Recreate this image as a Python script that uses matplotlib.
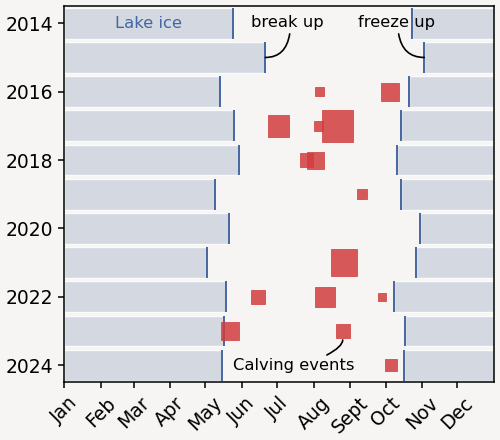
import matplotlib.pyplot as plt
import numpy as np

# lake ice: break-up / freeze-up day of year per season
years = [2014, 2015, 2016, 2017, 2018, 2019, 2020, 2021, 2022, 2023, 2024]
break_up = [143.5, 171, 132, 144.6, 148.3, 128.3, 140.4, 121.5, 137.6, 135.4, 134.2]
freeze_up = [295.7, 305.8, 292.8, 285.8, 282.7, 285.8, 301.9, 298.8, 279.7, 289.8, 288.6]

# calving events (day of year, year, marker area)
calving_year = [2016, 2016, 2017, 2017, 2017, 2018, 2018, 2019, 2021, 2022, 2022, 2022, 2023, 2023, 2024]
calving_day = [216.8, 277, 182.3, 216.2, 232.2, 205.7, 213.7, 252.7, 237.7, 164.6, 221.3, 270, 141.1, 236.6, 277.6]
calving_size = [46, 165, 236, 46, 510, 92, 150, 55, 360, 92, 205, 39, 162, 102, 70]

month_starts = [0, 31, 59, 90, 120, 151, 181, 212, 243, 273, 304, 334]
month_labels = ["Jan", "Feb", "Mar", "Apr", "May", "Jun", "Jul", "Aug", "Sept", "Oct", "Nov", "Dec"]

BG = "#f6f5f3"
ICE = "#d3d8e1"
LINE = "#4566a0"
RED = "#d23c3e"
FS = 13.5   # tick labels
FA = 11.8   # annotations

plt.rcParams["font.family"] = "DejaVu Sans"
fig = plt.figure(figsize=(5, 4.4), dpi=100, facecolor=BG)
ax = fig.add_axes([0.128, 0.131, 0.86, 0.855], facecolor=BG)

yrs = np.array(years)
h = 0.9
ax.barh(yrs, break_up, left=0, height=h, color=ICE, edgecolor="#fbfbfb", lw=1, zorder=1)
ax.barh(yrs, 365 - np.array(freeze_up), left=freeze_up, height=h, color=ICE,
        edgecolor="#fbfbfb", lw=1, zorder=1)
ax.vlines(break_up, yrs - h / 2, yrs + h / 2, color=LINE, lw=1.4, zorder=2)
ax.vlines(freeze_up, yrs - h / 2, yrs + h / 2, color=LINE, lw=1.4, zorder=2)

ax.scatter(calving_day, calving_year, s=calving_size, marker="s", color=RED,
           alpha=0.85, edgecolor=RED, lw=0.6, zorder=3)

ax.set_xlim(0, 365)
ax.set_ylim(2024.5, 2013.5)
ax.set_yticks(range(2014, 2025, 2))
ax.set_xticks(month_starts)
ax.set_xticklabels(month_labels, rotation=45)
ax.tick_params(labelsize=FS, length=4.5, width=1.1)
for sp in ax.spines.values():
    sp.set_linewidth(1.1)

ax.text(71.8, 2014, "Lake ice", color=LINE, fontsize=FA, ha="center", va="center", zorder=4)

arrow = dict(arrowstyle="-", color="black", lw=1.2, shrinkA=1, shrinkB=0)
ax.annotate("break up", xy=(171, 2015), xytext=(189.2, 2013.97), fontsize=FA,
            ha="center", va="center", zorder=4,
            arrowprops=dict(arrow, connectionstyle="angle3,angleA=90,angleB=0",
                            relpos=(0.55, 0.5)))
ax.annotate("freeze up", xy=(305.8, 2015), xytext=(282, 2013.97), fontsize=FA,
            ha="center", va="center", zorder=4,
            arrowprops=dict(arrow, connectionstyle="angle3,angleA=90,angleB=0",
                            relpos=(0.52, 0.5)))
ax.annotate("Calving events", xy=(236.6, 2023.26), xytext=(194.6, 2024.02), fontsize=FA,
            ha="center", va="center", zorder=4,
            arrowprops=dict(arrow, connectionstyle="angle3,angleA=25,angleB=90",
                            relpos=(0.72, 1.0)))

fig.savefig("out.png", dpi=100, facecolor=BG)
